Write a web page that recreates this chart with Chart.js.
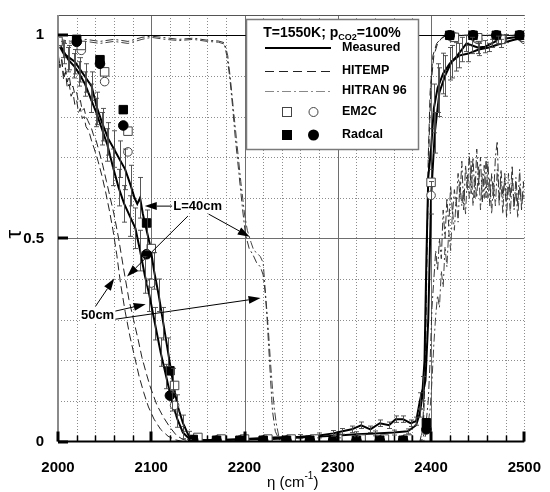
<!DOCTYPE html>
<html>
<head>
<meta charset="utf-8">
<script src="https://cdn.jsdelivr.net/npm/chart.js@4.4.1/dist/chart.umd.min.js"></script>
<style>
  body { margin: 0; background: #fff; }
  #wrap { width: 550px; height: 492px; }
</style>
</head>
<body>
<div id="wrap"><canvas id="chart"></canvas></div>
<script>
// axis ticks
const xTicks = [2000, 2100, 2200, 2300, 2400, 2500];
const yTicks = [0, 0.5, 1];

// measured transmissivity [eta, tau, error half-height]
const meas40 = [[2000,0.98,0],[2006,0.955,0.025],[2012,0.945,0.03],[2018,0.935,0.03],[2024,0.915,0.03],[2030,0.895,0.035],[2036,0.875,0.035],[2042,0.82,0.04],[2048,0.78,0.04],[2054,0.745,0.04],[2060,0.72,0.045],[2066,0.695,0.045],[2072,0.67,0.05],[2078,0.63,0.05],[2082,0.6,0],[2085,0.585,0],[2088,0.6,0.05],[2091,0.56,0],[2095,0.52,0.05],[2099,0.48,0],[2103,0.42,0.045],[2108,0.36,0.04],[2113,0.29,0.04],[2118,0.22,0.035],[2123,0.15,0.03],[2128,0.09,0.025],[2134,0.045,0.02],[2140,0.015,0.01],[2146,0.003,0],[2170,0.004,0],[2200,0.006,0],[2230,0.01,0],[2260,0.012,0.005],[2280,0.015,0.006],[2295,0.02,0.007],[2305,0.025,0.007],[2315,0.03,0.008],[2325,0.04,0.008],[2335,0.03,0.008],[2345,0.045,0.008],[2355,0.04,0.008],[2362,0.055,0.008],[2370,0.055,0.008],[2378,0.045,0.008],[2384,0.05,0.01],[2388,0.1,0.02],[2391,0.13,0.03],[2393,0.2,0],[2395,0.45,0],[2397,0.65,0],[2400,0.72,0.05],[2403,0.82,0.06],[2407,0.87,0.06],[2413,0.906,0.05],[2420,0.93,0.04],[2427,0.947,0.035],[2433,0.965,0.03],[2438,0.98,0.02],[2444,0.975,0.02],[2450,0.97,0.015],[2458,0.972,0.015],[2465,0.98,0.01],[2472,0.988,0.01],[2480,0.992,0.01],[2490,0.995,0],[2500,1.0,0]];
const meas50 = [[2000,0.985,0],[2005,0.965,0.02],[2011,0.94,0.03],[2017,0.925,0.03],[2023,0.905,0.03],[2029,0.88,0.03],[2035,0.845,0.035],[2041,0.81,0.035],[2047,0.77,0.04],[2053,0.73,0.04],[2059,0.675,0.045],[2065,0.625,0.045],[2071,0.585,0.045],[2077,0.555,0.05],[2083,0.525,0.05],[2088,0.47,0.05],[2093,0.41,0.045],[2098,0.36,0.04],[2104,0.29,0.04],[2110,0.22,0.035],[2116,0.16,0.03],[2122,0.1,0.025],[2128,0.055,0.02],[2134,0.022,0.015],[2140,0.008,0],[2146,0.003,0],[2170,0.003,0],[2200,0.005,0],[2230,0.006,0],[2260,0.01,0],[2280,0.012,0],[2300,0.015,0.006],[2320,0.018,0.006],[2340,0.02,0.006],[2360,0.022,0.006],[2375,0.025,0.006],[2384,0.04,0],[2388,0.07,0.01],[2391,0.118,0],[2394,0.15,0],[2397,0.3,0],[2400,0.6,0.04],[2404,0.76,0.05],[2409,0.86,0.06],[2415,0.9,0.05],[2422,0.935,0.04],[2430,0.95,0.03],[2440,0.955,0.02],[2451,0.965,0.015],[2462,0.97,0.01],[2475,0.98,0.01],[2487,0.988,0],[2500,0.995,0]];

// HITEMP line-by-line
const hitemp40 = [[2000,0.95],[2002,0.93],[2004,0.94],[2006,0.9],[2008,0.92],[2010,0.885],[2012,0.9],[2014,0.87],[2016,0.875],[2018,0.855],[2020,0.86],[2022,0.835],[2024,0.84],[2026,0.815],[2028,0.82],[2030,0.8],[2032,0.79],[2034,0.78],[2036,0.77],[2038,0.755],[2041,0.74],[2044,0.715],[2048,0.68],[2052,0.64],[2056,0.6],[2060,0.56],[2065,0.5],[2070,0.43],[2076,0.35],[2081,0.3],[2086,0.25],[2090,0.207],[2095,0.165],[2099,0.134],[2106,0.09],[2113,0.06],[2120,0.035],[2127,0.015],[2134,0.005],[2142,0.001],[2200,0],[2300,0],[2388,0],[2391,0.03],[2393,0.15],[2395,0.4],[2397,0.7],[2399,0.86],[2402,0.95],[2406,0.98],[2410,0.99],[2416,1.0],[2500,1.0]];
const hitemp50 = [[2000,0.96],[2002,0.92],[2004,0.94],[2006,0.89],[2008,0.91],[2010,0.87],[2012,0.88],[2014,0.85],[2016,0.86],[2018,0.83],[2020,0.84],[2022,0.81],[2024,0.82],[2026,0.795],[2028,0.8],[2030,0.775],[2033,0.765],[2036,0.74],[2039,0.72],[2043,0.69],[2047,0.655],[2051,0.615],[2055,0.57],[2059,0.52],[2063,0.46],[2067,0.39],[2072,0.32],[2077,0.26],[2082,0.21],[2087,0.16],[2092,0.12],[2097,0.085],[2103,0.055],[2110,0.03],[2118,0.013],[2126,0.004],[2134,0],[2200,0],[2300,0],[2389,0],[2392,0.05],[2394,0.2],[2396,0.5],[2398,0.75],[2400,0.88],[2403,0.95],[2407,0.98],[2412,0.995],[2418,1.0],[2500,1.0]];

// HITRAN 96
const hitran40 = [[2000,0.99],[2015,0.985],[2030,0.99],[2045,0.985],[2060,0.99],[2075,0.985],[2090,0.995],[2100,0.998],[2115,0.994],[2130,0.99],[2145,0.993],[2160,0.988],[2172,0.986],[2178,0.982],[2181,0.95],[2184,0.9],[2187,0.83],[2190,0.75],[2194,0.66],[2198,0.57],[2201,0.51],[2205,0.475],[2209,0.46],[2213,0.44],[2217,0.43],[2220,0.41],[2222,0.37],[2224,0.31],[2226,0.23],[2228,0.15],[2230,0.075],[2233,0.025],[2237,0.005],[2245,0],[2390,0],[2394,0.03],[2397,0.1],[2399,0.2],[2401,0.33],[2403,0.4],[2405,0.47],[2407,0.42],[2409,0.5],[2411,0.45],[2413,0.57],[2415,0.5],[2417,0.6],[2419,0.53],[2421,0.63],[2423,0.56],[2425,0.62],[2427,0.58],[2429,0.66],[2431,0.6],[2433,0.69],[2435,0.57],[2437,0.68],[2439,0.62],[2441,0.71],[2443,0.61],[2445,0.7],[2447,0.6],[2449,0.72],[2451,0.63],[2453,0.7],[2455,0.59],[2457,0.68],[2459,0.6],[2461,0.69],[2463,0.58],[2465,0.66],[2467,0.6],[2469,0.7],[2471,0.74],[2473,0.58],[2475,0.67],[2477,0.6],[2479,0.65],[2481,0.55],[2483,0.66],[2485,0.6],[2487,0.68],[2489,0.57],[2491,0.65],[2493,0.58],[2495,0.67],[2497,0.57],[2499,0.64],[2500,0.6]];
const hitran50 = [[2000,0.985],[2015,0.98],[2030,0.985],[2045,0.98],[2060,0.985],[2075,0.98],[2090,0.99],[2100,0.995],[2115,0.99],[2130,0.987],[2145,0.99],[2160,0.985],[2172,0.983],[2179,0.978],[2182,0.95],[2185,0.89],[2188,0.82],[2192,0.73],[2196,0.64],[2200,0.56],[2203,0.52],[2207,0.49],[2210,0.47],[2213,0.465],[2217,0.455],[2220,0.44],[2222,0.38],[2224,0.32],[2226,0.26],[2228,0.19],[2230,0.13],[2232,0.08],[2234,0.045],[2237,0.01],[2242,0],[2392,0],[2396,0.03],[2399,0.08],[2401,0.15],[2403,0.24],[2405,0.31],[2407,0.36],[2409,0.33],[2411,0.42],[2413,0.38],[2415,0.48],[2417,0.43],[2419,0.52],[2421,0.47],[2423,0.57],[2425,0.52],[2427,0.6],[2429,0.54],[2431,0.64],[2433,0.58],[2435,0.62],[2437,0.56],[2439,0.66],[2441,0.6],[2443,0.69],[2445,0.58],[2447,0.65],[2449,0.6],[2451,0.68],[2453,0.57],[2455,0.66],[2457,0.6],[2459,0.7],[2461,0.6],[2463,0.65],[2465,0.56],[2467,0.64],[2469,0.58],[2471,0.67],[2473,0.6],[2475,0.64],[2477,0.56],[2479,0.66],[2481,0.59],[2483,0.63],[2485,0.56],[2487,0.65],[2489,0.58],[2491,0.62],[2493,0.55],[2495,0.63],[2497,0.58],[2499,0.61],[2500,0.6]];

// narrow band models: squares = 40 cm, circles = 50 cm
const radcalX = [2020,2045,2070,2095,2120,2145,2170,2195,2220,2245,2270,2295,2320,2345,2370,2395,2420,2445,2470,2495];
const radcalSq = [0.99,0.94,0.817,0.538,0.174,0.005,0.003,0.003,0.003,0.003,0.003,0.003,0.003,0.003,0.003,0.046,1.0,1.0,1.0,1.0];
const radcalCi = [0.984,0.93,0.778,0.461,0.113,0.003,0.002,0.002,0.002,0.002,0.002,0.002,0.002,0.002,0.002,0.03,1.0,1.0,1.0,1.0];
const em2cX = [2000,2025,2050,2075,2100,2125,2150,2175,2200,2225,2250,2275,2300,2325,2350,2375,2400,2425,2450,2475,2500];
const em2cSq = [0.985,0.975,0.91,0.764,0.475,0.138,0.01,0.006,0.006,0.006,0.006,0.006,0.006,0.006,0.006,0.006,0.638,0.995,0.994,0.99,0.995];
const em2cCi = [0.98,0.963,0.886,0.713,0.39,0.089,0.003,0.003,0.003,0.003,0.003,0.003,0.003,0.003,0.003,0.003,0.606,0.996,0.99,0.99,0.99];

// annotations (data units)
const notes = [['L=40cm', 2149.8, 0.5795], ['50cm', 2042.4, 0.311]];
const arrows = [
  [2122.4,0.5795,2093,0.5795],[2139.3,0.555,2074,0.406],[2161.4,0.56,2205.6,0.504],
  [2040.3,0.333,2060.3,0.401],[2061.4,0.321,2094,0.338],[2061.4,0.301,2217.2,0.353]
];

const FONT = "'Liberation Sans', Arial, sans-serif";
const pairs = arr => arr.map(p => ({x: p[0], y: p[1]}));
const zip = (xs, ys) => xs.map((v, i) => ({x: v, y: ys[i]}));

function lineSet(data, color, width, dash) {
  return {data: data, borderColor: color, borderWidth: width, borderDash: dash,
    pointRadius: 0, fill: false, tension: 0, showLine: true};
}
function markSet(data, style, filled, r) {
  return {data: data, showLine: false, pointStyle: style, pointRadius: r,
    pointBackgroundColor: filled ? '#000' : '#fff', pointBorderColor: filled ? '#000' : '#444',
    pointBorderWidth: 1};
}

function arrow(ctx, x1, y1, x2, y2) {
  const a = Math.atan2(y2 - y1, x2 - x1), L = 12, W = 4;
  ctx.beginPath();
  ctx.moveTo(x1, y1);
  ctx.lineTo(x2 - L * Math.cos(a), y2 - L * Math.sin(a));
  ctx.stroke();
  ctx.beginPath();
  ctx.moveTo(x2, y2);
  ctx.lineTo(x2 - L * Math.cos(a) + W * Math.sin(a), y2 - L * Math.sin(a) - W * Math.cos(a));
  ctx.lineTo(x2 - L * Math.cos(a) - W * Math.sin(a), y2 - L * Math.sin(a) + W * Math.cos(a));
  ctx.closePath();
  ctx.fill();
}

const frame = {
  id: 'frame',
  beforeDatasetsDraw(chart) {
    const {ctx, chartArea: a, scales: {x, y}} = chart;
    const px = v => Math.round(x.getPixelForValue(v)) + 0.5;
    const py = v => Math.round(y.getPixelForValue(v)) + 0.5;
    ctx.save();
    ctx.lineWidth = 1;
    ctx.strokeStyle = '#8c8c8c';
    ctx.setLineDash([1, 2]);
    for (let v = 2020; v < 2500; v += 20) {
      if (v % 100 === 0) continue;
      ctx.beginPath(); ctx.moveTo(px(v), a.top); ctx.lineTo(px(v), a.bottom); ctx.stroke();
    }
    ctx.beginPath(); ctx.moveTo(px(2500), a.top); ctx.lineTo(px(2500), a.bottom); ctx.stroke();
    for (let k = 1; k <= 9; k++) {
      if (k === 5) continue;
      ctx.beginPath(); ctx.moveTo(a.left, py(k / 10)); ctx.lineTo(a.right, py(k / 10)); ctx.stroke();
    }
    ctx.setLineDash([]);
    ctx.strokeStyle = '#6e6e6e';
    for (const v of [2100, 2200, 2300, 2400]) {
      ctx.beginPath(); ctx.moveTo(px(v), a.top); ctx.lineTo(px(v), a.bottom); ctx.stroke();
    }
    ctx.beginPath(); ctx.moveTo(a.left, py(0.5)); ctx.lineTo(a.right, py(0.5)); ctx.stroke();
    ctx.strokeStyle = '#000';
    ctx.beginPath(); ctx.moveTo(a.left, py(1)); ctx.lineTo(a.right, py(1)); ctx.stroke();
    ctx.strokeStyle = '#555';
    ctx.beginPath(); ctx.moveTo(a.left, a.top + 0.5); ctx.lineTo(a.right, a.top + 0.5); ctx.stroke();
    ctx.restore();
  },
  afterDatasetsDraw(chart) {
    const {ctx, chartArea: a, scales: {x, y}} = chart;
    ctx.save();
    // error bars on measured curves
    ctx.strokeStyle = '#444';
    ctx.lineWidth = 0.9;
    for (const set of [meas40, meas50]) {
      for (const [e, t, d] of set) {
        if (!d) continue;
        const cx = Math.round(x.getPixelForValue(e)) + 0.5;
        const y1 = y.getPixelForValue(t - d), y2 = y.getPixelForValue(t + d);
        ctx.beginPath();
        ctx.moveTo(cx, y1); ctx.lineTo(cx, y2);
        ctx.moveTo(cx - 2.5, y1); ctx.lineTo(cx + 2.5, y1);
        ctx.moveTo(cx - 2.5, y2); ctx.lineTo(cx + 2.5, y2);
        ctx.stroke();
      }
    }
    // axes and ticks
    ctx.strokeStyle = '#8a8a8a';
    ctx.lineWidth = 2;
    ctx.beginPath(); ctx.moveTo(a.left, a.top); ctx.lineTo(a.left, a.bottom); ctx.stroke();
    ctx.strokeStyle = '#000';
    ctx.beginPath(); ctx.moveTo(a.left, a.bottom); ctx.lineTo(a.right, a.bottom); ctx.stroke();
    ctx.lineWidth = 1.5;
    for (let v = 2020; v < 2500; v += 20) {
      if (v % 100 === 0) continue;
      const cx = Math.round(x.getPixelForValue(v)) + 0.5;
      ctx.beginPath(); ctx.moveTo(cx, a.bottom); ctx.lineTo(cx, a.bottom - 6); ctx.stroke();
    }
    ctx.lineWidth = 3;
    for (const v of xTicks) {
      const cx = Math.round(x.getPixelForValue(v));
      ctx.beginPath(); ctx.moveTo(cx, a.bottom); ctx.lineTo(cx, a.bottom - 10); ctx.stroke();
    }
    for (const v of yTicks) {
      const cy = Math.round(y.getPixelForValue(v));
      ctx.beginPath(); ctx.moveTo(a.left, cy); ctx.lineTo(a.left + 10, cy); ctx.stroke();
    }
    // annotations
    ctx.lineWidth = 1;
    ctx.fillStyle = '#000';
    for (const [x1, y1, x2, y2] of arrows) {
      arrow(ctx, x.getPixelForValue(x1), y.getPixelForValue(y1), x.getPixelForValue(x2), y.getPixelForValue(y2));
    }
    ctx.font = 'bold 13px ' + FONT;
    ctx.textAlign = 'center';
    ctx.textBaseline = 'middle';
    for (const [t, e, v] of notes) {
      const tx = x.getPixelForValue(e), ty = y.getPixelForValue(v);
      const w = ctx.measureText(t).width;
      ctx.fillStyle = '#fff';
      ctx.fillRect(tx - w / 2 - 1, ty - 7, w + 2, 14);
      ctx.fillStyle = '#000';
      ctx.fillText(t, tx, ty);
    }
    ctx.restore();
  },
  afterDraw(chart) {
    const {ctx, chartArea: a} = chart;
    ctx.save();
    // axis titles
    ctx.fillStyle = '#000';
    ctx.font = '22px ' + FONT;
    ctx.textAlign = 'center';
    ctx.textBaseline = 'middle';
    ctx.translate(15, (a.top + a.bottom) / 2 + 6);
    ctx.rotate(-Math.PI / 2);
    ctx.fillText('τ', 0, 0);
    ctx.setTransform(1, 0, 0, 1, 0, 0);
    ctx.textAlign = 'left';
    ctx.textBaseline = 'alphabetic';
    ctx.font = '15px ' + FONT;
    let tx = 267;
    ctx.fillText('η (cm', tx, 487);
    tx += ctx.measureText('η (cm').width;
    ctx.font = '10px ' + FONT;
    ctx.fillText('-1', tx, 479);
    tx += ctx.measureText('-1').width;
    ctx.font = '15px ' + FONT;
    ctx.fillText(')', tx, 487);

    // legend box
    const L = 246, T = 19, W = 172, H = 130;
    ctx.fillStyle = '#fff';
    ctx.fillRect(L, T, W, H);
    ctx.strokeStyle = '#7a7a7a';
    ctx.lineWidth = 1.5;
    ctx.strokeRect(L + 0.5, T + 0.5, W, H);
    ctx.fillStyle = '#000';
    ctx.font = 'bold 14px ' + FONT;
    const p1 = 'T=1550K; p', sub = 'CO2', p2 = '=100%';
    const w1 = ctx.measureText(p1).width, w3 = ctx.measureText(p2).width;
    ctx.font = 'bold 9px ' + FONT;
    const w2 = ctx.measureText(sub).width;
    let sx = L + W / 2 - (w1 + w2 + w3) / 2;
    ctx.font = 'bold 14px ' + FONT;
    ctx.fillText(p1, sx, 37);
    ctx.font = 'bold 9px ' + FONT;
    ctx.fillText(sub, sx + w1, 40);
    ctx.font = 'bold 14px ' + FONT;
    ctx.fillText(p2, sx + w1 + w2, 37);

    const rows = [48, 71, 91, 112, 135];
    const labels = ['Measured', 'HITEMP', 'HITRAN 96', 'EM2C', 'Radcal'];
    ctx.font = 'bold 12.5px ' + FONT;
    ctx.textBaseline = 'middle';
    labels.forEach((t, i) => ctx.fillText(t, 342, rows[i]));
    const seg = (yy, color, w, dash) => {
      ctx.strokeStyle = color; ctx.lineWidth = w; ctx.setLineDash(dash);
      ctx.beginPath(); ctx.moveTo(265, yy); ctx.lineTo(331, yy); ctx.stroke();
      ctx.setLineDash([]);
    };
    seg(rows[0], '#000', 2, []);
    seg(rows[1] + 0.5, '#222', 1, [9, 5]);
    seg(rows[2] + 0.5, '#888', 1, [9, 3, 2, 3]);
    ctx.lineWidth = 1;
    ctx.strokeStyle = '#444';
    ctx.fillStyle = '#fff';
    ctx.fillRect(282.5, rows[3] - 4.5, 9, 9); ctx.strokeRect(282.5, rows[3] - 4.5, 9, 9);
    ctx.beginPath(); ctx.arc(313.5, rows[3], 4.5, 0, 2 * Math.PI); ctx.fill(); ctx.stroke();
    ctx.fillStyle = '#000';
    ctx.fillRect(282, rows[4] - 5, 10, 10);
    ctx.beginPath(); ctx.arc(313.5, rows[4], 5.5, 0, 2 * Math.PI); ctx.fill();
    ctx.restore();
  }
};

new Chart(document.getElementById('chart'), {
  type: 'scatter',
  data: {
    datasets: [
      markSet(zip(radcalX, radcalSq), 'rect', true, 6),
      markSet(zip(radcalX, radcalCi), 'circle', true, 4.8),
      markSet(zip(em2cX, em2cSq), 'rect', false, 6),
      markSet(zip(em2cX, em2cCi), 'circle', false, 4.3),
      lineSet(pairs(meas40), '#000', 2, []),
      lineSet(pairs(meas50), '#000', 2, []),
      lineSet(pairs(hitemp40), '#222', 1, [8, 4]),
      lineSet(pairs(hitemp50), '#222', 1, [8, 4]),
      lineSet(pairs(hitran40), '#333', 1, [8, 3, 2, 3]),
      lineSet(pairs(hitran50), '#444', 1, [8, 3, 2, 3])
    ]
  },
  options: {
    responsive: true,
    maintainAspectRatio: false,
    animation: false,
    devicePixelRatio: 1,
    layout: {padding: {top: 11, right: 17, left: 0, bottom: 0}},
    plugins: {legend: {display: false}, tooltip: {enabled: false}},
    scales: {
      x: {
        type: 'linear', min: 2000, max: 2500,
        grid: {display: false}, border: {display: false},
        afterBuildTicks: s => { s.ticks = xTicks.map(v => ({value: v})); },
        afterFit: s => { s.height = 50.5; },
        ticks: {callback: v => String(v), color: '#000', padding: 9, maxRotation: 0,
          font: {family: FONT, size: 15, weight: 'bold'}}
      },
      y: {
        type: 'linear', min: 0, max: 1.05,
        grid: {display: false}, border: {display: false},
        afterBuildTicks: s => { s.ticks = yTicks.map(v => ({value: v})); },
        afterFit: s => { s.width = 58; },
        ticks: {callback: v => String(v), color: '#000', padding: 6,
          font: {family: FONT, size: 15, weight: 'bold'}}
      }
    }
  },
  plugins: [frame]
});
</script>
</body>
</html>
